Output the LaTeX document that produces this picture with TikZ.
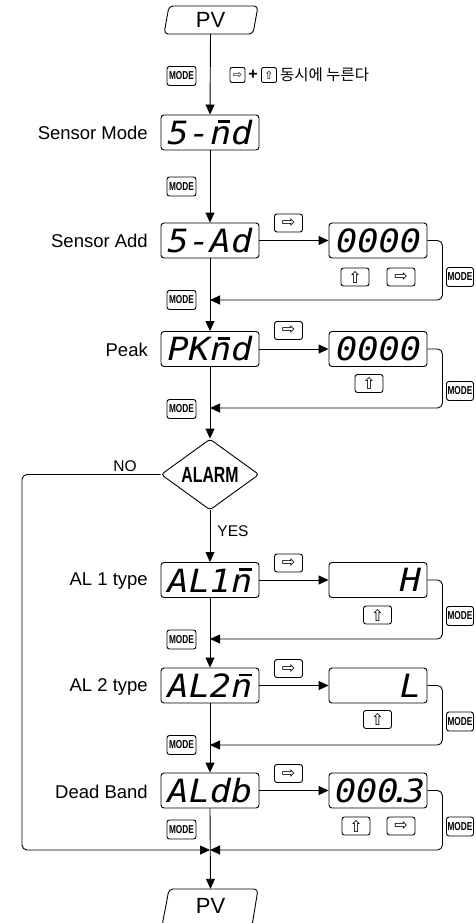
\documentclass[tikz,border=0pt]{standalone}
\usepackage{fontspec}
\setmainfont{Liberation Sans}
\newfontfamily\segfont[FakeStretch=1.1]{DejaVu Sans Mono}
\newfontfamily\symfont{DejaVu Sans}
\newfontfamily\narrowfont[FakeStretch=0.72]{Liberation Sans}
\newfontfamily\krfont{Noto Sans CJK KR}
\newcommand\nbar{\makebox[0pt][l]{\hspace{0.24em}\raisebox{0.66em}{\rule{0.4em}{0.09em}}}n}
\usetikzlibrary{arrows.meta,shapes.geometric}
\tikzset{
 conn/.style={line width=0.9pt, draw=black},
 arr/.style={conn, -{Triangle[length=10pt,width=9pt]}},
 disp/.style={draw, line width=0.9pt, rounded corners=3pt, minimum width=98pt, minimum height=35pt, inner sep=0pt, font=\segfont\itshape\fontsize{32}{32}\selectfont},
 dispv/.style={disp, text width=86pt, align=right},
 keyb/.style={draw, line width=0.9pt, rounded corners=2.5pt, minimum width=28pt, minimum height=18pt, inner sep=0pt, font=\symfont\fontsize{16}{16}\selectfont},
 keysm/.style={keyb, minimum width=15pt, minimum height=15pt, rounded corners=2pt, font=\symfont\fontsize{11}{11}\selectfont},
 modek/.style={draw, line width=0.9pt, rounded corners=2.5pt, minimum width=29pt, minimum height=19pt, inner sep=0pt, font=\narrowfont\bfseries\fontsize{11.5}{11.5}\selectfont},
 modekr/.style={modek, minimum width=27pt},
 lbl/.style={anchor=east, inner sep=0pt, font=\fontsize{18.5}{20}\selectfont},
 yn/.style={inner sep=0pt, font=\fontsize{15.5}{16}\selectfont},
 pvtext/.style={font=\fontsize{22}{22}\selectfont, minimum width=90pt, minimum height=28pt, inner sep=0pt},
 pvbox/.style={line width=0.9pt, rounded corners=4pt},
 loop/.style={arr, rounded corners=5pt},
}
\begin{document}
\begin{tikzpicture}[x=1pt,y=-1pt]
\useasboundingbox (0,0) rectangle (475,923);
\clip (0,0) rectangle (475,923);

% PV top
\draw[pvbox] (169,6) -- (258,6) -- (253,34) -- (164,34) -- cycle;
\node[pvtext] (pv1) at (210.5,20) {PV};

% hint
\node[modek] (m1) at (181.5,76) {MODE};
\node[keysm] (hk1) at (237.5,75) {⇨};
\node[inner sep=0pt, font=\bfseries\fontsize{16}{16}\selectfont] (hp) at (253,75) {+};
\node[keysm] (hk2) at (269,75) {⇧};
\node[anchor=west, inner sep=0pt, font=\krfont\fontsize{15.5}{15.5}\selectfont] (hkr) at (280,75) {동시에 누른다};

% Sensor Mode
\node[disp] (smode) at (210,132.5) {5-\nbar d};
\node[lbl] (lsmode) at (148,133) {Sensor Mode};
\node[modek] (m2) at (181.5,186.5) {MODE};

% Sensor Add
\node[disp] (sadd) at (210,240.5) {5-Ad};
\node[lbl] (lsadd) at (148,241) {Sensor Add};
\node[keyb] (kr1) at (288.5,223) {⇨};
\node[dispv] (saddv) at (378,240.5) {0000};
\node[keyb] (ku1) at (355,277) {⇧};
\node[keyb] (kr1b) at (401,277) {⇨};
\node[modekr] (mr1) at (460,277) {MODE};
\node[modek] (m3) at (181.5,300) {MODE};
\coordinate (j1) at (210,300);

% Peak
\node[disp] (peak) at (210,349) {PK\nbar d};
\node[lbl] (lpeak) at (148,350) {Peak};
\node[keyb] (kr2) at (288.5,330.5) {⇨};
\node[dispv] (peakv) at (378,349) {0000};
\node[keyb] (ku2) at (369,383.5) {⇧};
\node[modekr] (mr2) at (460,391) {MODE};
\node[modek] (m4) at (181.5,409) {MODE};
\coordinate (j2) at (210,408);

% Alarm
\node[draw, shape=diamond, aspect=1.4, line width=0.9pt, rounded corners=3pt, minimum width=98pt, minimum height=71pt, inner sep=0pt, font=\narrowfont\bfseries\fontsize{22}{22}\selectfont] (alarm) at (210,474.5) {ALARM};
\node[yn] (no) at (125,466) {NO};
\node[yn] (yes) at (233,531) {YES};

% AL1
\node[disp] (al1) at (210,580) {AL1\nbar};
\node[lbl] (lal1) at (148,581) {AL 1 type};
\node[keyb] (kr3) at (288.5,563) {⇨};
\node[dispv] (al1v) at (378,580) {H};
\node[keyb] (ku3) at (377.5,615) {⇧};
\node[modekr] (mr3) at (460,616) {MODE};
\node[modek] (m5) at (181.5,639.5) {MODE};
\coordinate (j5) at (210,639);

% AL2
\node[disp] (al2) at (210,685.5) {AL2\nbar};
\node[lbl] (lal2) at (148,686.5) {AL 2 type};
\node[keyb] (kr4) at (288.5,668.5) {⇨};
\node[dispv] (al2v) at (378,685.5) {L};
\node[keyb] (ku4) at (377.5,719.5) {⇧};
\node[modekr] (mr4) at (460,721.5) {MODE};
\node[modek] (m6) at (181.5,745) {MODE};
\coordinate (j6) at (210,745);

% Dead Band
\node[disp] (db) at (210,790.5) {ALdb};
\node[lbl] (ldb) at (148,791.5) {Dead Band};
\node[keyb] (kr5) at (288.5,773.5) {⇨};
\node[dispv] (dbv) at (378,790.5) {000\kern-0.25em.\kern-0.25em3};
\node[keyb] (ku5) at (356,826) {⇧};
\node[keyb] (kr5b) at (401,826) {⇨};
\node[modekr] (mr5) at (460,826.5) {MODE};
\node[modek] (m7) at (181.5,829.5) {MODE};
\coordinate (j7) at (210,850);
\coordinate (nb) at (22,850);

% PV bottom
\draw[pvbox] (169,889) -- (258,889) -- (252,926) -- (162,926) -- cycle;
\node[pvtext, minimum height=34pt] (pv2) at (210.5,906) {PV};

% main line
\draw[arr] (pv1.south) -- (smode.north);
\draw[arr] (smode.south) -- (sadd.north);
\draw[arr] (sadd.south) -- (peak.north);
\draw[arr] (peak.south) -- (alarm.north);
\draw[arr] (alarm.south) -- (al1.north);
\draw[arr] (al1.south) -- (al2.north);
\draw[arr] (al2.south) -- (db.north);
\draw[arr] (db.south) -- (pv2.north);

% side branches
\draw[arr] (sadd.east) -- (saddv.west);
\draw[arr] (peak.east) -- (peakv.west);
\draw[arr] (al1.east) -- (al1v.west);
\draw[arr] (al2.east) -- (al2v.west);
\draw[arr] (db.east) -- (dbv.west);

% return loops
\draw[loop] (saddv.east) -- ++(15,0) |- (j1);
\draw[loop] (peakv.east) -- ++(15,0) |- (j2);
\draw[loop] (al1v.east) -- ++(15,0) |- (j5);
\draw[loop] (al2v.east) -- ++(15,0) |- (j6);
\draw[loop] (dbv.east) -- ++(15,0) |- (j7);
\draw[loop] (alarm.west) -| (nb) -- (j7);
\end{tikzpicture}
\end{document}
